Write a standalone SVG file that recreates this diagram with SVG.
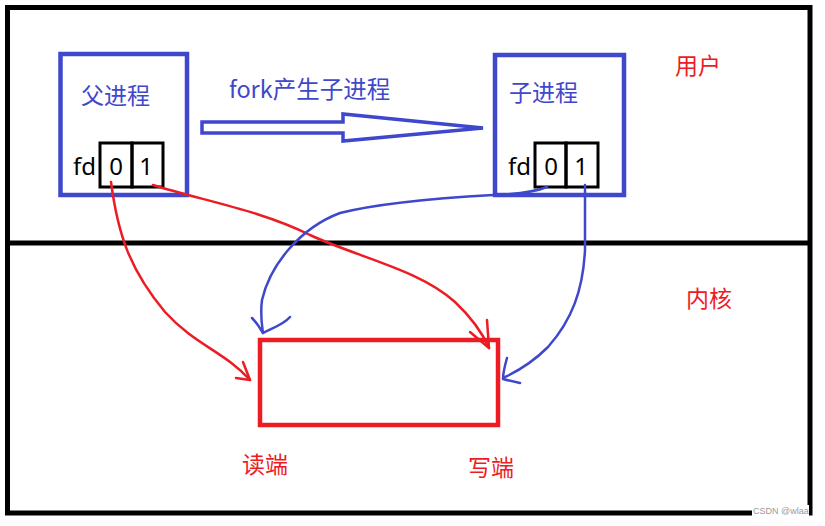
<svg xmlns="http://www.w3.org/2000/svg" width="825" height="526" viewBox="0 0 825 526">
<style>
.frame{fill:none;stroke:#000;stroke-width:5}
.proc{fill:none;stroke:#3f48cc;stroke-width:4.5}
.cell{fill:none;stroke:#000;stroke-width:3}
.cjk{font-family:"Noto Sans CJK SC","Microsoft YaHei",sans-serif;font-size:23px}
.lat{font-family:"Noto Sans","Liberation Sans",sans-serif;font-size:24px;fill:#000}
.blue{fill:#3f48cc}
.red{fill:#ed1c24}
.rl{fill:none;stroke:#ed1c24;stroke-width:2.5;stroke-linecap:round;stroke-linejoin:round}
.bl{fill:none;stroke:#3f48cc;stroke-width:2.5;stroke-linecap:round;stroke-linejoin:round}
</style>
<rect width="825" height="526" fill="#fff"/>
<g id="frame">
<rect class="frame" x="7.5" y="7.5" width="802.5" height="505.5"/>
<line class="frame" x1="7.5" y1="243" x2="810" y2="243"/>
</g>
<g id="parent">
<rect class="proc" x="60.5" y="54" width="126.5" height="141"/>
<text class="cjk blue" x="81" y="104">父进程</text>
<text class="lat" x="73" y="175">fd</text>
<rect class="cell" x="100" y="143" width="32" height="44"/>
<rect class="cell" x="132" y="143" width="31" height="44"/>
<text class="lat" x="116" y="175" text-anchor="middle">0</text>
<text class="lat" x="146" y="175" text-anchor="middle">1</text>
</g>
<g id="child">
<rect class="proc" x="495" y="55" width="129" height="140"/>
<text class="cjk blue" x="509" y="101">子进程</text>
<text class="lat" x="508" y="175">fd</text>
<rect class="cell" x="535" y="143" width="31" height="44"/>
<rect class="cell" x="566" y="143" width="32" height="44"/>
<text class="lat" x="551" y="175" text-anchor="middle">0</text>
<text class="lat" x="581" y="175" text-anchor="middle">1</text>
</g>
<g id="fork">
<text class="cjk blue" x="229" y="98" style="font-size:23.5px">fork产生子进程</text>
<polygon points="202,122 343,122 343,114 483,128 343,141 343,133 202,133" fill="none" stroke="#3f48cc" stroke-width="3.5" stroke-linejoin="miter"/>
</g>
<g id="pipe">
<rect x="260" y="340" width="238" height="85" fill="none" stroke="#ed1c24" stroke-width="4.5"/>
<text class="cjk red" x="242" y="473">读端</text>
<text class="cjk red" x="468" y="476">写端</text>
</g>
<g id="labels">
<text class="cjk red" x="675" y="74">用户</text>
<text class="cjk red" x="686" y="307">内核</text>
</g>
<g id="connectors">
<path class="rl" d="M111,182 C118,235 130,270 165,312 C195,345 225,352 250,380"/>
<path class="rl" d="M243,362 L250,380 L236,378"/>
<path class="rl" d="M153,185 C200,200 260,210 310,235 C360,258 420,270 455,302 C472,318 482,332 489,348"/>
<path class="rl" d="M487,320 L489,348 L470,332"/>
<path class="bl" d="M547,187 C535,192 520,194 493,195 C440,198 380,203 340,213 C300,228 270,265 262,300 C260,315 262,325 263,333"/>
<path class="bl" d="M252,318 C257,323 260,328 263,333 C272,328 283,325 290,317"/>
<path class="bl" d="M585,185 L585,250 C583,290 572,320 548,347 C535,360 520,370 505,377"/>
<path class="bl" d="M507,358 C505,365 503,372 503,379 C510,381 515,382 520,383"/>
</g>
<g id="watermark">
<rect x="752" y="505" width="57" height="11" fill="#fff"/>
<text x="753" y="514" font-family="Liberation Sans, sans-serif" font-size="9" fill="#9a9a9a">CSDN @wlaa</text>
</g>
</svg>
